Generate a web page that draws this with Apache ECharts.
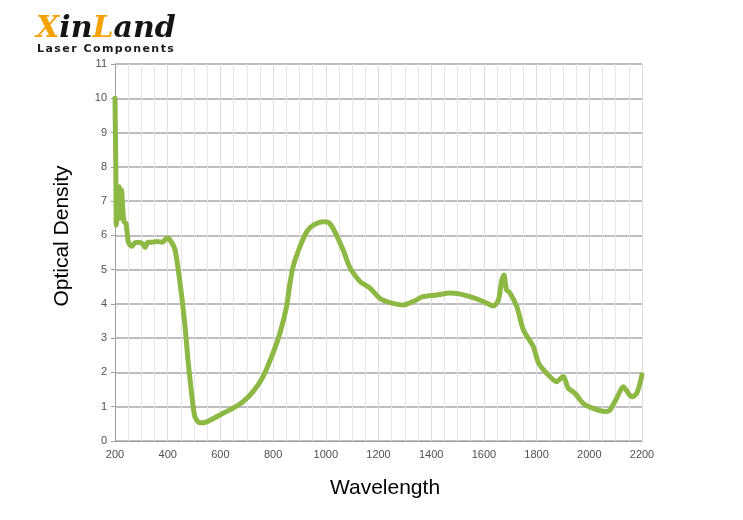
<!DOCTYPE html>
<html><head><meta charset="utf-8">
<script src="https://cdn.jsdelivr.net/npm/echarts@6/dist/echarts.min.js"></script>
<style>html,body{margin:0;padding:0;background:#fff}#c{width:743px;height:520px}</style>
</head><body><div id="c"></div>
<script>
const wavelength = [200,203,205,208,212,216,219,222,225,229,234,242,250,257,264,275,290,305,314,325,340,360,380,397,410,428,447,466,477,485,495,503,513,523,548,598,648,686,724,762,800,826,851,864,876,902,928,953,990,1010,1028,1066,1092,1130,1150,1168,1206,1244,1294,1331,1369,1421,1471,1500,1547,1598,1636,1655,1668,1676,1686,1699,1725,1750,1788,1807,1838,1876,1901,1920,1946,1977,2015,2060,2078,2104,2129,2161,2180,2200];
const opticalDensity = [10.0,8.0,6.3,6.6,7.0,7.42,6.5,6.9,7.32,6.85,6.4,6.35,5.82,5.72,5.68,5.78,5.8,5.75,5.65,5.8,5.8,5.82,5.8,5.92,5.85,5.57,4.6,3.33,2.36,1.78,1.1,0.71,0.58,0.53,0.56,0.76,0.96,1.15,1.44,1.88,2.57,3.15,3.92,4.6,5.09,5.67,6.11,6.3,6.4,6.38,6.2,5.57,5.05,4.65,4.55,4.46,4.16,4.04,3.97,4.07,4.21,4.26,4.32,4.3,4.21,4.07,3.94,4.11,4.70,4.84,4.41,4.32,3.92,3.24,2.75,2.28,1.98,1.73,1.88,1.54,1.39,1.10,0.95,0.86,0.90,1.25,1.58,1.29,1.39,1.93];
const xTicks = [200,400,600,800,1000,1200,1400,1600,1800,2000,2200];
const yTicks = [0,1,2,3,4,5,6,7,8,9,10,11];
const subtitle = 'Laser Components';

const subFont = 'bold 11px "DejaVu Sans"';
const ctx = document.createElement('canvas').getContext('2d');
ctx.font = subFont;
const subEls = [];
let sx = 37;
for (const ch of subtitle) {
  subEls.push({type:'text',x:sx,y:44,style:{text:ch,fill:'#1a1a1a',font:subFont}});
  sx += ctx.measureText(ch).width + 1.45;
}

const chart = echarts.init(document.getElementById('c'));
chart.setOption({
  backgroundColor:'#fff',
  animation:false,
  grid:{left:115,right:101,top:64,bottom:79,containLabel:false},
  xAxis:{type:'value',min:xTicks[0],max:xTicks[xTicks.length-1],interval:200,
    axisLine:{show:true,lineStyle:{color:'#a0a0a0',width:1}},
    axisTick:{show:false},
    minorTick:{show:false,splitNumber:4},
    axisLabel:{color:'#505050',fontSize:11,fontFamily:'Liberation Sans',margin:8,formatter:v=>String(v)},
    splitLine:{show:true,lineStyle:{color:'#dedede',width:1}},
    minorSplitLine:{show:true,lineStyle:{color:'#e6e6e6',width:1}}
  },
  yAxis:{type:'value',min:yTicks[0],max:yTicks[yTicks.length-1],interval:1,
    axisLine:{show:true,lineStyle:{color:'#a0a0a0',width:1}},
    axisTick:{show:true,length:4,lineStyle:{color:'#a0a0a0'}},
    axisLabel:{color:'#505050',fontSize:11,fontFamily:'Liberation Sans',margin:8},
    splitLine:{show:true,lineStyle:{color:'#a8a8a8',width:1.5}}
  },
  series:[{type:'line',data:wavelength.map((w,i)=>[w,opticalDensity[i]]),
    showSymbol:false,smooth:0.25,
    lineStyle:{color:'#8db843',width:5,join:'round',cap:'round'}}],
  graphic:[
    {type:'text',left:36,top:14,style:{
      text:'{o|X}{b|in}{o|L}{b|and}',
      rich:{
        o:{fill:'#f5a100',font:'italic bold 30px "DejaVu Serif"'},
        b:{fill:'#141414',font:'italic bold 30px "DejaVu Serif"'}
      }}},
    ...subEls,
    {type:'text',x:62,y:236,rotation:Math.PI/2,style:{text:'Optical Density',fill:'#000',font:'21px "Liberation Sans"',align:'center',verticalAlign:'middle'}},
    {type:'text',x:385,y:488,style:{text:'Wavelength',fill:'#000',font:'21px "Liberation Sans"',align:'center',verticalAlign:'middle'}}
  ]
});
</script></body></html>
